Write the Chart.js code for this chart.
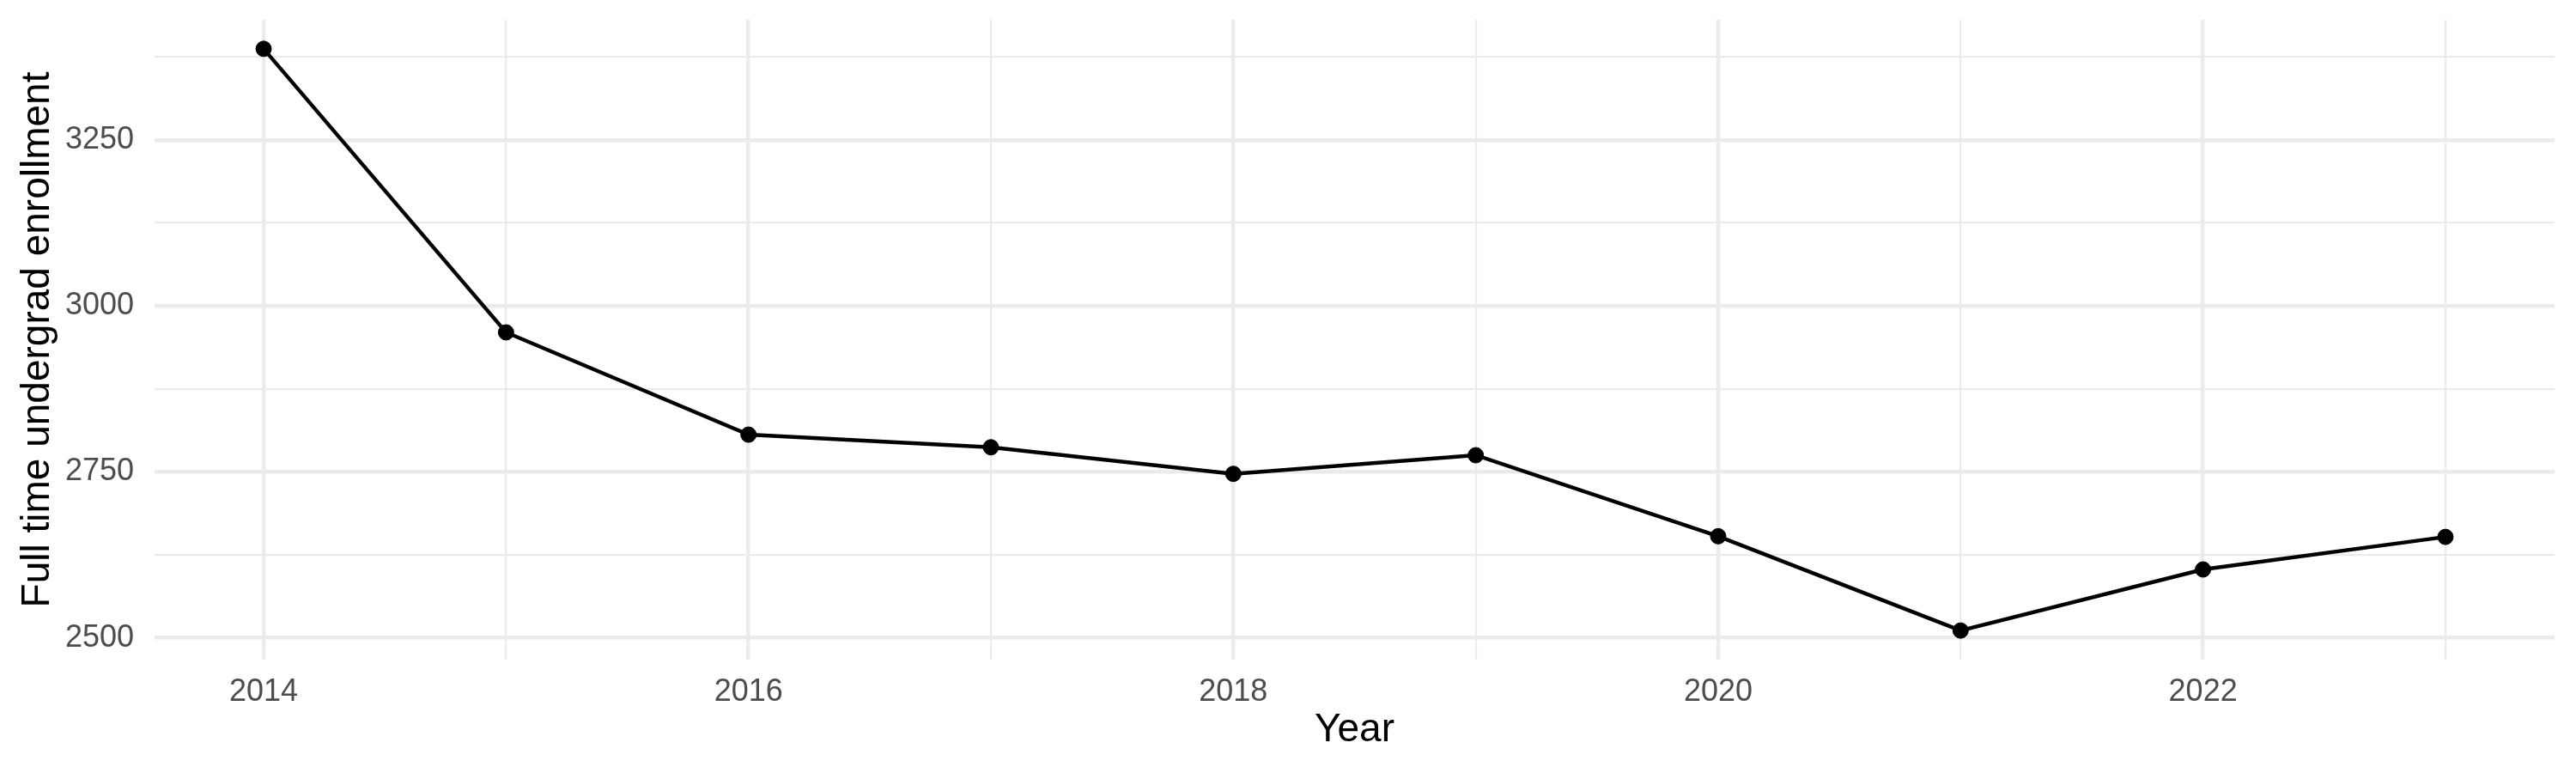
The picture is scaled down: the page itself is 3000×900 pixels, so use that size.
<!DOCTYPE html>
<html>
<head>
<meta charset="utf-8">
<script src="https://cdn.jsdelivr.net/npm/chart.js@4/dist/chart.umd.min.js"></script>
<style>
  html, body { margin: 0; padding: 0; background: #ffffff; }
  #wrap { width: 3000px; height: 900px; }
</style>
</head>
<body>
<div id="wrap"><canvas id="c" width="3000" height="900"></canvas></div>
<script>
const years = [2014, 2015, 2016, 2017, 2018, 2019, 2020, 2021, 2022, 2023];
const enrollment = [3387, 2960, 2806, 2787, 2747, 2775, 2653, 2511, 2603, 2652];
const xTickValues = [2014, 2015, 2016, 2017, 2018, 2019, 2020, 2021, 2022, 2023];
const xTickLabels = ['2014', '', '2016', '', '2018', '', '2020', '', '2022', ''];
const yTickValues = [2500, 2625, 2750, 2875, 3000, 3125, 3250, 3375];
const yTickLabels = ['2500', '', '2750', '', '3000', '', '3250', ''];
const xTitle = 'Year';
const yTitle = 'Full time undergrad enrollment';

const FONT = "'Liberation Sans', Arial, Helvetica, sans-serif";
const GRID = '#EBEBEB';

// ggplot-style 5% expansion of the data range
const xMin = Math.min(...years), xMax = Math.max(...years);
const yMin = Math.min(...enrollment), yMax = Math.max(...enrollment);
const xPad = (xMax - xMin) * 0.05, yPad = (yMax - yMin) * 0.05;

const points = years.map((y, i) => ({ x: y, y: enrollment[i] }));

new Chart(document.getElementById('c'), {
  type: 'line',
  data: {
    datasets: [{
      data: points,
      borderColor: '#000000',
      backgroundColor: '#000000',
      borderWidth: 4.4,
      tension: 0,
      pointRadius: 9,
      pointBorderWidth: 1,
      pointBackgroundColor: '#000000',
      pointBorderColor: '#000000',
      fill: false
    }]
  },
  options: {
    responsive: false,
    devicePixelRatio: 1,
    animation: false,
    layout: { padding: { top: 23, right: 25, left: 0, bottom: 0 } },
    plugins: { legend: { display: false }, tooltip: { enabled: false } },
    scales: {
      x: {
        type: 'linear',
        min: xMin - xPad,
        max: xMax + xPad,
        afterBuildTicks: (s) => { s.ticks = xTickValues.map(v => ({ value: v })); },
        afterFit: (s) => { s.height = 132; s.paddingLeft = 0; s.paddingRight = 0; },
        border: { display: false },
        grid: {
          color: GRID,
          drawTicks: false,
          lineWidth: (ctx) => (ctx.tick && xTickLabels[xTickValues.indexOf(ctx.tick.value)] === '') ? 2.2 : 4.4
        },
        ticks: {
          autoSkip: false,
          maxRotation: 0,
          padding: 16,
          color: '#4D4D4D',
          font: { family: FONT, size: 36 },
          callback: (v) => { const i = xTickValues.indexOf(v); return i >= 0 ? xTickLabels[i] : ''; }
        },
        title: {
          display: true,
          text: xTitle,
          color: '#000000',
          font: { family: FONT, size: 46 },
          padding: { top: 0, bottom: 22 }
        }
      },
      y: {
        type: 'linear',
        min: yMin - yPad,
        max: yMax + yPad,
        afterBuildTicks: (s) => { s.ticks = yTickValues.map(v => ({ value: v })); },
        afterFit: (s) => { s.width = 180; s.paddingTop = 0; s.paddingBottom = 0; },
        border: { display: false },
        grid: {
          color: GRID,
          drawTicks: false,
          lineWidth: (ctx) => (ctx.tick && yTickLabels[yTickValues.indexOf(ctx.tick.value)] === '') ? 2.2 : 4.4
        },
        ticks: {
          autoSkip: false,
          padding: 24,
          color: '#4D4D4D',
          font: { family: FONT, size: 36 },
          callback: (v) => { const i = yTickValues.indexOf(v); return i >= 0 ? yTickLabels[i] : ''; }
        },
        title: {
          display: true,
          text: yTitle,
          color: '#000000',
          font: { family: FONT, size: 46 },
          padding: { top: 17, bottom: 0 }
        }
      }
    }
  }
});
</script>
</body>
</html>
